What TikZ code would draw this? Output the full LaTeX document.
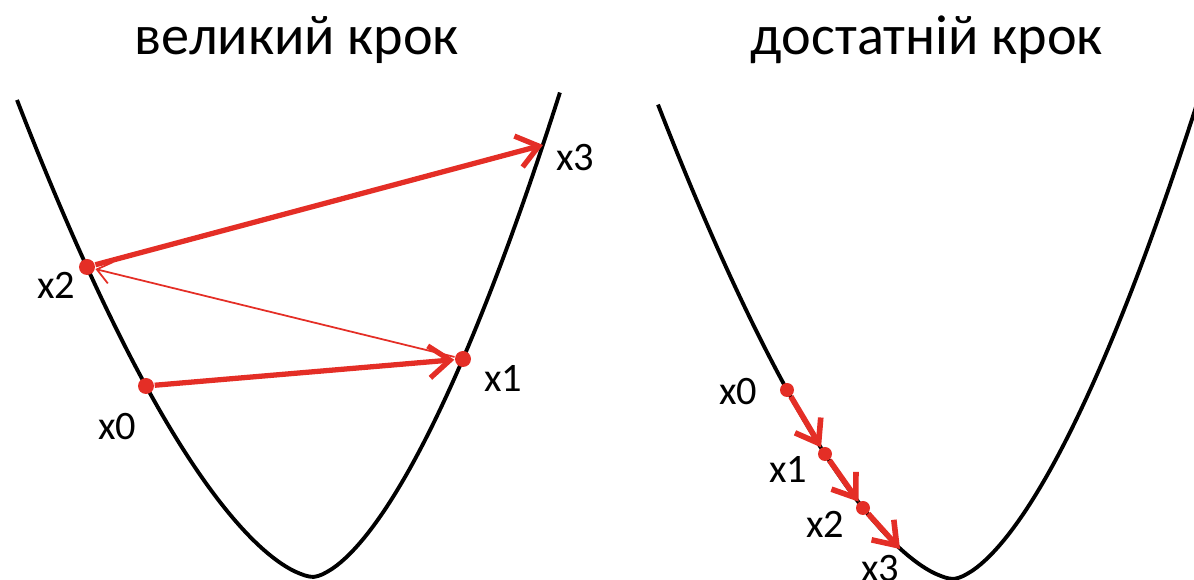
\documentclass[tikz,border=0pt]{standalone}
\usepackage{fontspec}
\setmainfont{Carlito}
\usetikzlibrary{arrows.meta}
\definecolor{stepred}{RGB}{228,46,38}
\tikzset{
  curve/.style={black,line width=1.1pt},
  bigstep/.style={stepred,line width=1.5pt,-{Straight Barb[length=2.1mm,width=3.2mm]}},
  thinstep/.style={stepred,line width=0.5pt,-{Straight Barb[length=1.4mm,width=2.2mm]}},
  smallstep/.style={stepred,line width=1.6pt,-{Straight Barb[length=2.1mm,width=3mm]}},
  dot/.style={circle,fill=stepred,inner sep=0pt,minimum size=1.6mm},
  lbl/.style={anchor=base,font=\fontsize{11.5}{13}\selectfont},
  title/.style={anchor=base,font=\fontsize{16}{19}\selectfont}
}
\begin{document}
\begin{tikzpicture}
\useasboundingbox (0,0) rectangle (11.94,5.80);
\clip (0,0) rectangle (11.94,5.80);
% titles
\node[title] (tbig) at (2.97,5.25) {великий крок};
\node[title] (tgood) at (9.27,5.25) {достатній крок};
% left: step too large
\draw[curve] plot[domain=-2.96:2.47,samples=120] ({3.13+\x},{0.03+ifthenelse(\x<0,0.84,1.14)*pow(abs(\x)+0.001,1.6)});
\node[dot] (bx0) at (1.46,1.94) {};
\node[dot] (bx1) at (4.63,2.21) {};
\node[dot] (bx2) at (0.87,3.13) {};
\coordinate (bx3) at (5.43,4.35);
\draw[bigstep] (bx0) -- (bx1);
\draw[thinstep] (bx1) -- (bx2);
\draw[bigstep] (bx2) -- (bx3);
\node[lbl] (bl0) at (1.17,1.40) {x0};
\node[lbl] (bl1) at (5.03,1.88) {x1};
\node[lbl] (bl2) at (0.56,2.81) {x2};
\node[lbl] (bl3) at (5.75,4.09) {x3};
% right: step small enough
\draw[curve] plot[domain=-2.95:2.47,samples=120] ({9.53+\x},{0.01+ifthenelse(\x<0,0.84,1.14)*pow(abs(\x)+0.001,1.6)});
\node[dot,minimum size=1.4mm] (sx0) at (7.87,1.90) {};
\node[dot,minimum size=1.4mm] (sx1) at (8.25,1.26) {};
\node[dot,minimum size=1.4mm] (sx2) at (8.63,0.72) {};
\coordinate (sx3) at (9.00,0.31);
\draw[smallstep] (sx0) -- (sx1);
\draw[smallstep] (sx1) -- (sx2);
\draw[smallstep] (sx2) -- (sx3);
\node[lbl] (sl0) at (7.38,1.75) {x0};
\node[lbl] (sl1) at (7.88,0.97) {x1};
\node[lbl] (sl2) at (8.25,0.42) {x2};
\node[lbl] (sl3) at (8.80,-0.02) {x3};
\end{tikzpicture}
\end{document}
